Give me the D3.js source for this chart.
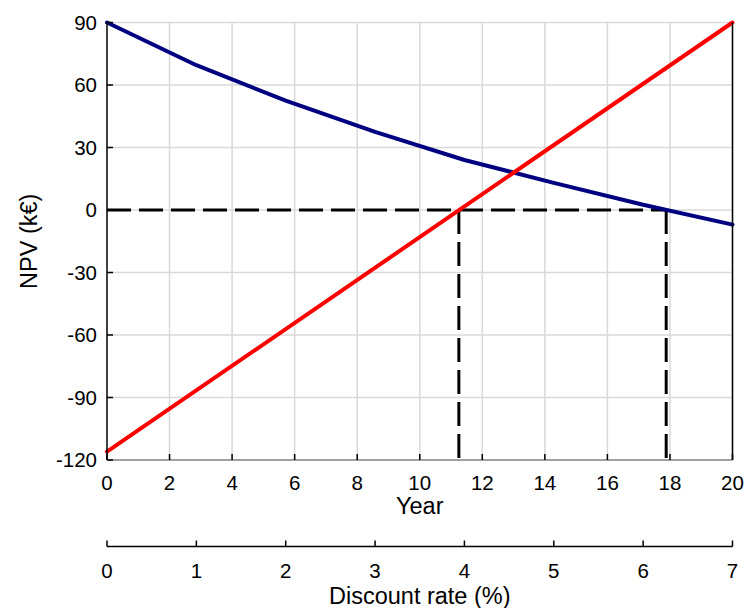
<!DOCTYPE html>
<html><head><meta charset="utf-8">
<script src="https://cdn.jsdelivr.net/npm/d3@7"></script>
<style>body{margin:0;background:#fff}svg{display:block}text{font-family:"Liberation Sans",Arial,sans-serif;fill:#000}</style>
</head><body>
<script>
// Data
const yearTicks = [0,2,4,6,8,10,12,14,16,18,20];
const npvTicks = [-120,-90,-60,-30,0,30,60,90];
const rateTicks = [0,1,2,3,4,5,6,7];
// Cumulative (undiscounted) NPV vs year
const redYears = [0, 20];
const redValues = [-116, 90];
// NPV vs discount rate
const blueRates = [0,1,2,3,4,5,6,7];
const blueValues = [90, 69.5, 52.5, 37.5, 24, 13, 2.5, -7];
// Break-even markers
const paybackYear = 11.25;
const irrYear = 17.88;

const W = 745, H = 608;
const L = 107, R = 732.5, T = 22.5, B = 460;
const svg = d3.select("body").append("svg").attr("width", W).attr("height", H);

const x = d3.scaleLinear().domain([0,20]).range([L,R]);
const xr = d3.scaleLinear().domain([0,7]).range([L,R]);
const y = d3.scaleLinear().domain([-120,90]).range([B,T]);

// grid
const g = svg.append("g");
g.selectAll(".vg").data(yearTicks.slice(1)).enter().append("line")
  .attr("x1", d=>x(d)).attr("x2", d=>x(d)).attr("y1", T).attr("y2", B)
  .attr("stroke", "#d9d9d9").attr("stroke-width", 1.5);
g.selectAll(".hg").data(npvTicks.slice(1)).enter().append("line")
  .attr("x1", L).attr("x2", R).attr("y1", d=>y(d)).attr("y2", d=>y(d))
  .attr("stroke", "#d9d9d9").attr("stroke-width", 1.5);

// dashed lines
const dash = "24,8";
svg.append("line").attr("x1", x(0)).attr("x2", x(irrYear)).attr("y1", y(0)).attr("y2", y(0))
  .attr("stroke","#000").attr("stroke-width",3).attr("stroke-dasharray",dash);
[paybackYear, irrYear].forEach(v=>{
  svg.append("line").attr("x1", x(v)).attr("x2", x(v)).attr("y1", y(0)).attr("y2", y(-120))
    .attr("stroke","#000").attr("stroke-width",3).attr("stroke-dasharray",dash);
});

// lines
const lineYear = d3.line().x(d=>x(d[0])).y(d=>y(d[1]));
const lineRate = d3.line().x(d=>xr(d[0])).y(d=>y(d[1]));
svg.append("path").datum(blueRates.map((r,i)=>[r, blueValues[i]]))
  .attr("d", lineRate).attr("fill","none").attr("stroke","#000080").attr("stroke-width",4).attr("stroke-linejoin","round").attr("stroke-linecap","round");
svg.append("path").datum(redYears.map((r,i)=>[r, redValues[i]]))
  .attr("d", lineYear).attr("fill","none").attr("stroke","#ff0000").attr("stroke-width",4).attr("stroke-linecap","round");

// axes frame
svg.append("line").attr("x1", L).attr("x2", R).attr("y1", B).attr("y2", B).attr("stroke","#808080").attr("stroke-width",1.5);
svg.append("line").attr("x1", L).attr("x2", L).attr("y1", T).attr("y2", B).attr("stroke","#000").attr("stroke-width",1.5);
svg.append("line").attr("x1", R).attr("x2", R).attr("y1", T).attr("y2", B).attr("stroke","#000").attr("stroke-width",1.5);

// x ticks (inward)
svg.selectAll(".xt").data(yearTicks).enter().append("line")
  .attr("x1", d=>x(d)).attr("x2", d=>x(d)).attr("y1", B).attr("y2", B-6).attr("stroke","#000").attr("stroke-width",1.5);
svg.selectAll(".xl").data(yearTicks).enter().append("text")
  .attr("x", d=>x(d)).attr("y", 490).attr("text-anchor","middle").attr("font-size",20.5).text(d=>d);
// y ticks
svg.selectAll(".yt").data(npvTicks).enter().append("line")
  .attr("x1", L).attr("x2", L+6).attr("y1", d=>y(d)).attr("y2", d=>y(d)).attr("stroke","#000").attr("stroke-width",1.5);
svg.selectAll(".yl").data(npvTicks).enter().append("text")
  .attr("x", 97).attr("y", d=>y(d)+7.3).attr("text-anchor","end").attr("font-size",20.5).text(d=>d);

// secondary axis
const SA = 546.5;
svg.append("line").attr("x1", L).attr("x2", R).attr("y1", SA).attr("y2", SA).attr("stroke","#000").attr("stroke-width",1.5);
svg.selectAll(".rt").data(rateTicks).enter().append("line")
  .attr("x1", d=>xr(d)).attr("x2", d=>xr(d)).attr("y1", SA).attr("y2", SA-6).attr("stroke","#000").attr("stroke-width",1.5);
svg.selectAll(".rl").data(rateTicks).enter().append("text")
  .attr("x", d=>xr(d)).attr("y", 578).attr("text-anchor","middle").attr("font-size",20.5).text(d=>d);

// titles
svg.append("text").attr("x", (L+R)/2).attr("y", 514).attr("text-anchor","middle").attr("font-size",23.5).text("Year");
svg.append("text").attr("x", (L+R)/2).attr("y", 604).attr("text-anchor","middle").attr("font-size",23.5).text("Discount rate (%)");
svg.append("text").attr("transform", `translate(37,${(T+B)/2}) rotate(-90)`).attr("text-anchor","middle").attr("font-size",23.5).text("NPV (k€)");
</script>
</body></html>
